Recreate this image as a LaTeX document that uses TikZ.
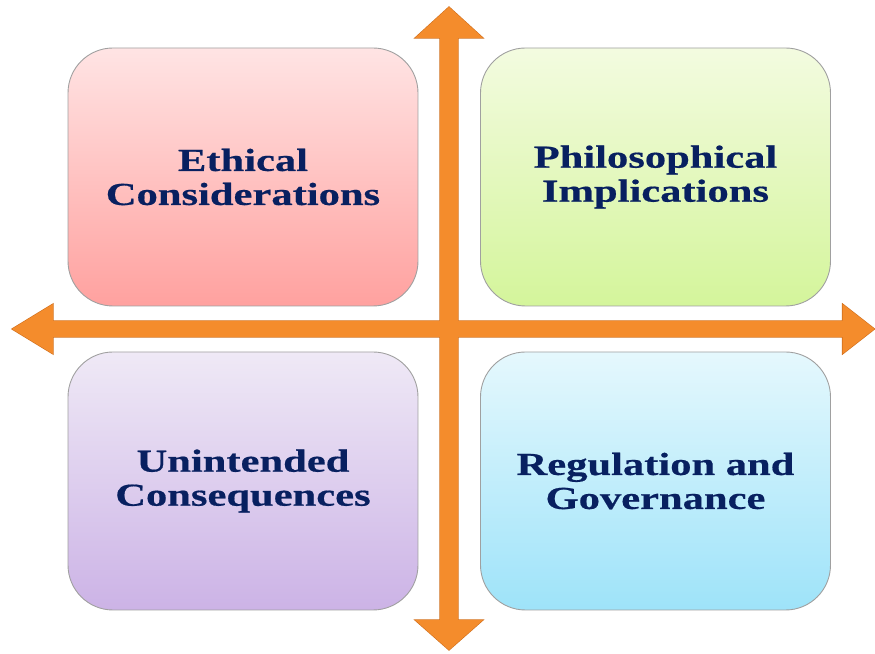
\documentclass[tikz,border=0pt]{standalone}
\usepackage{fontspec}
\newfontfamily\boxfont[FakeStretch=1.33,FakeBold=0.5]{Liberation Serif Bold}
\usetikzlibrary{calc}
\definecolor{txtblue}{HTML}{082060}
\definecolor{arrowfill}{HTML}{F48C2C}
\definecolor{arrowedge}{HTML}{CF6E1C}
\definecolor{boxedge}{HTML}{A0A0A0}
\definecolor{pinkT}{HTML}{FFE4E4}\definecolor{pinkB}{HTML}{FFA19F}
\definecolor{greenT}{HTML}{F3FBE0}\definecolor{greenB}{HTML}{D4F59B}
\definecolor{purpT}{HTML}{EFE9F6}\definecolor{purpB}{HTML}{CCB3E6}
\definecolor{blueT}{HTML}{E5F8FD}\definecolor{blueB}{HTML}{9EE3F9}
\tikzset{
  quadbox/.style={rectangle, rounded corners=45pt, minimum width=350pt, minimum height=258pt,
    draw=boxedge, line width=0.9pt, align=center, text=txtblue,
    font=\boxfont\fontsize{32}{34}\selectfont, inner sep=0pt},
  arrowline/.style={draw=arrowedge, line width=1.2pt, line join=miter},
  arrowbody/.style={fill=arrowfill}
}
\begin{document}
\begin{tikzpicture}[x=1pt,y=1pt]
\useasboundingbox (0,0) rectangle (875,653);
\node[quadbox, top color=pinkT, bottom color=pinkB] (eth) at (243,476) {Ethical\\Considerations};
\node[quadbox, top color=greenT, bottom color=greenB] (phi) at (655.5,476) {Philosophical\\Implications};
\node[quadbox, top color=purpT, bottom color=purpB] (uni) at (243,172) {Unintended\\Consequences};
\node[quadbox, top color=blueT, bottom color=blueB] (reg) at (655.5,172) {Regulation and\\Governance};
\coordinate (lt) at (12,324);
\coordinate (rt) at (874.5,324);
\coordinate (tp) at (449,646);
\coordinate (bt) at (449,3);
\def\harrow{(lt) -- ($(lt)+(41,25)$) -- ($(lt)+(41,8)$) -- ($(rt)+(-32,8)$) -- ($(rt)+(-32,25)$)
  -- (rt) -- ($(rt)+(-32,-25)$) -- ($(rt)+(-32,-8)$) -- ($(lt)+(41,-8)$) -- ($(lt)+(41,-25)$) -- cycle}
\def\varrow{(tp) -- ($(tp)+(34,-31)$) -- ($(tp)+(9,-31)$) -- ($(bt)+(9,30)$) -- ($(bt)+(34,30)$)
  -- (bt) -- ($(bt)+(-34,30)$) -- ($(bt)+(-9,30)$) -- ($(tp)+(-9,-31)$) -- ($(tp)+(-34,-31)$) -- cycle}
\path[arrowline] \harrow;
\path[arrowline] \varrow;
\path[arrowbody] \harrow;
\path[arrowbody] \varrow;
\end{tikzpicture}
\end{document}
